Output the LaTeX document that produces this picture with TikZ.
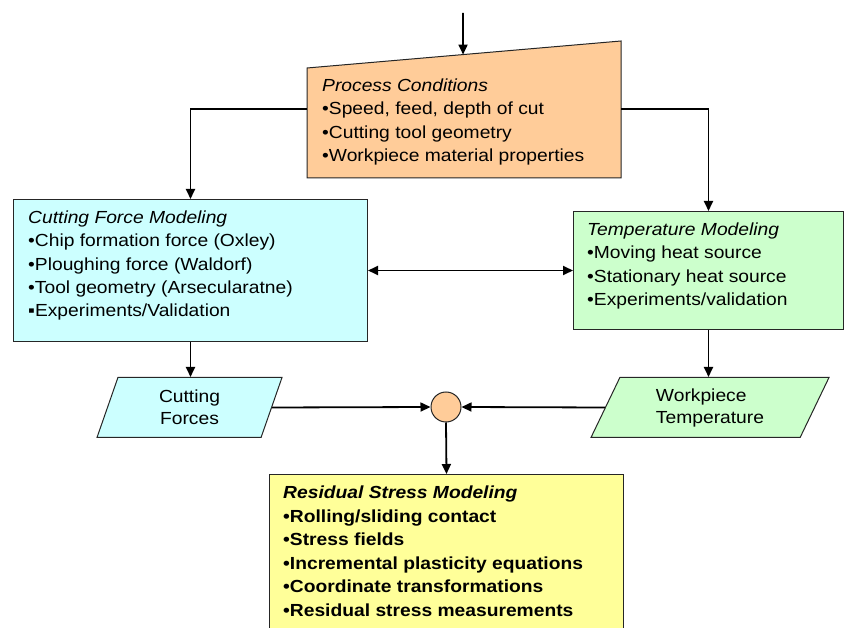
\documentclass[tikz,border=0pt]{standalone}
\usepackage{fontspec}
\setmainfont[FakeStretch=1.1]{Liberation Sans}
\usetikzlibrary{arrows.meta,shapes.geometric,calc}

\definecolor{condfill}{HTML}{FFCC99}
\definecolor{forcefill}{HTML}{CCFFFF}
\definecolor{tempfill}{HTML}{CCFFCC}
\definecolor{stressfill}{HTML}{FFFF99}

\begin{document}
\begin{tikzpicture}[x=1pt,y=-1pt,
  box/.style={draw=black!85,line width=1pt,fill=#1,anchor=north west,inner sep=0pt},
  databox/.style={draw=black!85,line width=1pt,fill=#1,trapezium,trapezium stretches body,inner sep=0pt},
  boxtext/.style={anchor=north west,inner sep=0pt,align=left,font=\fontsize{17.5}{23.3}\selectfont},
  flow/.style={line width=1.8pt,-{Triangle[length=10pt,width=9pt]}}]

\useasboundingbox (0,0) rectangle (844,628);

% process conditions (slanted top)
\coordinate (pc-nw) at (307,68);
\coordinate (pc-ne) at (621,41);
\coordinate (pc-se) at (621,178);
\coordinate (pc-sw) at (307,178);
\coordinate (pc-w) at (307,109);
\coordinate (pc-e) at (621,109);
\coordinate (pc-in) at ($(pc-nw)!0.497!(pc-ne)$);
\coordinate (feed) at (463,13);
\draw[draw=black!85,line width=1pt,fill=condfill] (pc-nw) -- (pc-ne) -- (pc-se) -- (pc-sw) -- cycle;
\node[boxtext] (pc-text) at (322,75) {\strut\textit{Process Conditions}\\•Speed, feed, depth of cut\\•Cutting tool geometry\\•Workpiece material properties};

% modeling boxes
\node[box=forcefill,minimum width=354pt,minimum height=142pt] (cfm) at (13,199) {};
\node[boxtext] (cfm-text) at (28,207) {\strut\textit{Cutting Force Modeling}\\•Chip formation force (Oxley)\\•Ploughing force (Waldorf)\\•Tool geometry (Arsecularatne)\\▪Experiments/Validation};

\node[box=tempfill,minimum width=270pt,minimum height=118pt] (tm) at (573,211) {};
\node[boxtext] (tm-text) at (587,219) {\strut\textit{Temperature Modeling}\\•Moving heat source\\•Stationary heat source\\•Experiments/validation};

% outputs
\node[databox=forcefill,trapezium left angle=59,trapezium right angle=121,minimum width=185pt,minimum height=60pt,align=center,font=\fontsize{17.5}{22}\selectfont] (cf) at (189.5,407.5) {Cutting\\Forces};
\node[databox=tempfill,trapezium left angle=53,trapezium right angle=127,minimum width=238pt,minimum height=60pt,align=left,font=\fontsize{17.5}{22}\selectfont] (tw) at (710,407.5) {Workpiece\\Temperature};

\node[circle,draw=black!85,line width=1pt,fill=condfill,minimum size=30pt,inner sep=0pt] (sum) at (446,407) {};

% residual stress
\node[box=stressfill,minimum width=354pt,minimum height=170pt] (rsm) at (269,474) {};
\node[boxtext,font=\fontsize{17.5}{23.5}\selectfont\bfseries] (rsm-text) at (283,482) {\strut\textit{Residual Stress Modeling}\\•Rolling/sliding contact\\•Stress fields\\•Incremental plasticity equations\\•Coordinate transformations\\•Residual stress measurements};

\draw[flow] (feed) -- (pc-in);
\draw[flow] (pc-w) -| (cfm.north);
\draw[flow] (pc-e) -| (tm.north);
\draw[flow,{Triangle[length=10pt,width=9pt]}-{Triangle[length=10pt,width=9pt]}] (cfm.east) -- (tm.west);
\draw[flow] (cfm.south) -- (cfm.south |- cf.north);
\draw[flow] (tm.south) -- (tm.south |- tw.north);
\draw[flow] (cf.east) -- (sum.west);
\draw[flow] (tw.west) -- (sum.east);
\draw[flow] (sum.south) -- (rsm.north);
\end{tikzpicture}
\end{document}
